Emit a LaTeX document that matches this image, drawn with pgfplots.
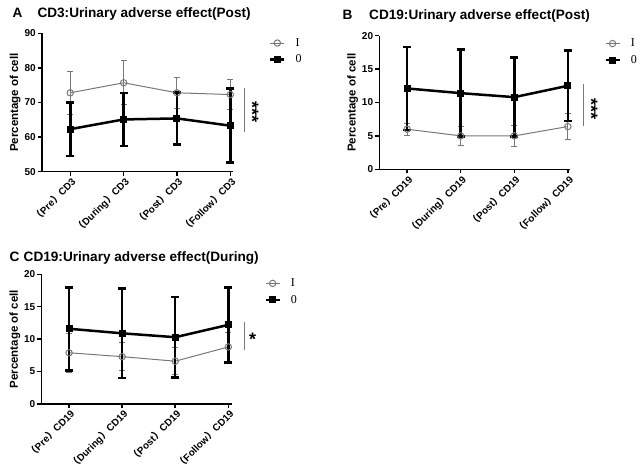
\documentclass[border=0pt]{standalone}
\usepackage{fontspec}
\setmainfont{Liberation Sans}
\newfontfamily\cjk{Noto Sans CJK SC}
\newfontfamily\lgfont{Liberation Serif}
\usepackage{pgfplots}
\usepackage{pgfplotstable}
\pgfplotsset{compat=1.18}

\definecolor{grayline}{RGB}{120,120,120}

% panel A
\pgfplotstableread{
x y e
0 72.8 6.3
1 75.7 6.4
2 72.8 4.5
3 72.3 4.4
}\aOne
\pgfplotstableread{
x y e
0 62.3 7.7
1 65.1 7.7
2 65.4 7.5
3 63.3 10.7
}\aZero
% panel B
\pgfplotstableread{
x y e
0 6.0 0.9
1 5.0 1.4
2 5.0 1.6
3 6.4 1.9
}\bOne
\pgfplotstableread{
x y e
0 12.1 6.2
1 11.4 6.5
2 10.8 5.9
3 12.5 5.3
}\bZero
% panel C
\pgfplotstableread{
x y e
0 7.9 3.0
1 7.3 2.2
2 6.6 2.1
3 8.8 2.2
}\cOne
\pgfplotstableread{
x y e
0 11.6 6.4
1 10.9 6.9
2 10.3 6.2
3 12.2 5.8
}\cZero

\pgfplotsset{
  panel/.style={
    scale only axis,
    anchor=south west,
    axis x line*=bottom, axis y line*=left,
    axis line style={line width=1.5pt, -},
    tick style={line width=1.5pt, black},
    major tick length=4pt,
    tick align=outside,
    xtick={0,1,2,3},
    clip=false,
    /pgf/number format/assume math mode=true,
    yticklabel style={font=\bfseries\fontsize{10}{11}\selectfont, inner sep=2pt},
    xticklabel style={font=\bfseries\fontsize{9.9}{12}\selectfont, rotate=45, anchor=north east, inner sep=0.5pt},
    ylabel={Percentage of cell},
    ylabel style={at={(axis description cs:-0.14,0.5)}, anchor=center, font=\bfseries\fontsize{11.5}{12}\selectfont},
    legend style={draw=none, fill=none, anchor=north west,
      font=\lgfont\fontsize{12}{12}\selectfont, row sep=5pt, inner sep=0pt,
      nodes={inner sep=1pt},
      /tikz/every odd column/.append style={column sep=9pt}},
    legend cell align=left,
    legend image code/.code={\draw[mark repeat=2, mark phase=2, #1] plot coordinates {(0pt,0pt) (7pt,0pt) (14pt,0pt)};},
  },
  oneser/.style={color=grayline, line width=1pt, mark=o, mark size=3.2pt,
    mark options={solid, line width=1pt},
    error bars/.cd, y dir=both, y explicit,
    error bar style={line width=1pt, grayline},
    error mark options={rotate=90, line width=1pt, mark size=3pt, grayline}},
  zeroser/.style={color=black, line width=2.5pt, mark=square*, mark size=3pt,
    mark options={solid, line width=1pt},
    error bars/.cd, y dir=both, y explicit,
    error bar style={line width=2.5pt, black},
    error mark options={rotate=90, line width=2.5pt, mark size=4pt, black}},
}

\begin{document}
\begin{tikzpicture}
\useasboundingbox (0,0) rectangle (640pt,472pt);

% ---------- A ----------
\begin{axis}[panel, at={(42pt,300.3pt)}, width=191pt, height=138.4pt,
  xmin=-0.53, xmax=3.05, ymin=50, ymax=90, ytick={50,60,70,80,90},
  xticklabels={{\cjk（}Pre{\cjk）}CD3, {\cjk（}During{\cjk）}CD3, {\cjk（}Post{\cjk）}CD3, {\cjk（}Follow{\cjk）}CD3},
  legend style={at={(axis description cs:1.188,0.972)}}]
\addplot[oneser] table[x=x, y=y, y error=e] {\aOne};
\addplot[zeroser] table[x=x, y=y, y error=e] {\aZero};
\legend{I,0}
\draw[grayline, line width=1pt] (axis cs:3.26,74.1) -- (axis cs:3.26,61.6);
\node[rotate=-90, font=\bfseries\fontsize{18}{18}\selectfont] at (axis cs:3.41,67.3) {***};
\end{axis}

% ---------- B ----------
\begin{axis}[panel, at={(379.3pt,302.7pt)}, width=190.7pt, height=133.6pt,
  xmin=-0.52, xmax=3.04, ymin=0, ymax=20, ytick={0,5,10,15,20},
  xticklabels={{\cjk（}Pre{\cjk）}CD19, {\cjk（}During{\cjk）}CD19, {\cjk（}Post{\cjk）}CD19, {\cjk（}Follow{\cjk）}CD19},
  legend style={at={(axis description cs:1.179,0.985)}}]
\addplot[oneser] table[x=x, y=y, y error=e] {\bOne};
\addplot[zeroser] table[x=x, y=y, y error=e] {\bZero};
\legend{I,0}
\draw[grayline, line width=1pt] (axis cs:3.29,12.7) -- (axis cs:3.29,6.5);
\node[rotate=-90, font=\bfseries\fontsize{18}{18}\selectfont] at (axis cs:3.44,9.0) {***};
\end{axis}

% ---------- C ----------
\begin{axis}[panel, at={(41.5pt,68pt)}, width=190pt, height=129.7pt,
  xmin=-0.52, xmax=3.06, ymin=0, ymax=20, ytick={0,5,10,15,20},
  xticklabels={{\cjk（}Pre{\cjk）}CD19, {\cjk（}During{\cjk）}CD19, {\cjk（}Post{\cjk）}CD19, {\cjk（}Follow{\cjk）}CD19},
  legend style={at={(axis description cs:1.172,0.975)}}]
\addplot[oneser] table[x=x, y=y, y error=e] {\cOne};
\addplot[zeroser] table[x=x, y=y, y error=e] {\cZero};
\legend{I,0}
\draw[grayline, line width=1pt] (axis cs:3.30,12.66) -- (axis cs:3.30,8.4);
\node[font=\bfseries\fontsize{18}{18}\selectfont] at (axis cs:3.46,9.9) {*};
\end{axis}

% titles
\node[anchor=base west, font=\bfseries\fontsize{13.6}{14}\selectfont] at (9pt,454.7pt) {A};
\node[anchor=base west, font=\bfseries\fontsize{13.6}{14}\selectfont] at (34pt,454.7pt) {CD3:Urinary adverse effect(Post)};
\node[anchor=base west, font=\bfseries\fontsize{13.6}{14}\selectfont] at (339pt,452pt) {B};
\node[anchor=base west, font=\bfseries\fontsize{13.6}{14}\selectfont] at (365.7pt,452pt) {CD19:Urinary adverse effect(Post)};
\node[anchor=base west, font=\bfseries\fontsize{13.6}{14}\selectfont] at (6pt,211pt) {C};
\node[anchor=base west, font=\bfseries\fontsize{13.6}{14}\selectfont] at (20.2pt,211pt) {CD19:Urinary adverse effect(During)};
\end{tikzpicture}
\end{document}
